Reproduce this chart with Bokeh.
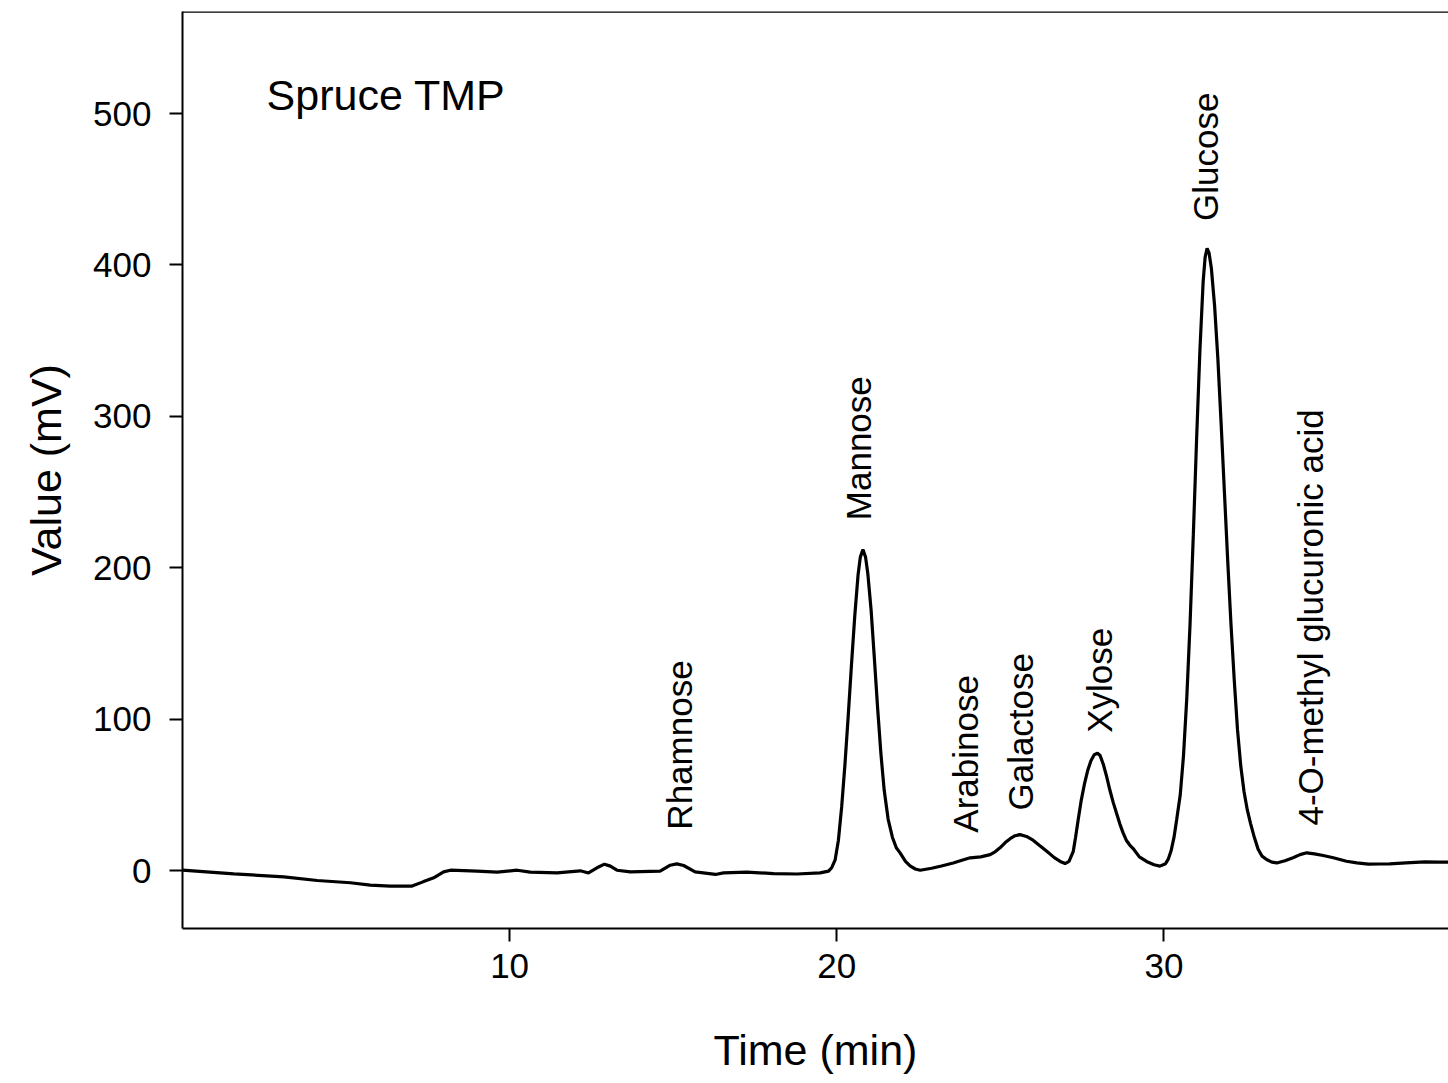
import math
from bokeh.plotting import figure
from bokeh.models import Range1d, FixedTicker, Span, ColumnDataSource
from bokeh.core.properties import value
from bokeh.embed import file_html
from bokeh.resources import INLINE

# Chromatogram trace (time in min, signal in mV)
time_min = [0, 1.57, 3.1, 4.12, 5.13, 5.74, 6.35, 7.02, 7.35, 7.68, 7.98, 8.19, 9.0, 9.62,
            10.23, 10.63, 11.45, 12.16, 12.41, 12.67, 12.9, 13.08, 13.28, 13.69, 14.6, 14.91,
            15.11, 15.32, 15.67, 16.29, 16.54, 17.25, 18.07, 18.78, 19.49, 19.75, 19.85, 19.95,
            20.05, 20.15, 20.25, 20.35, 20.45, 20.55, 20.65, 20.72, 20.8, 20.88, 20.95, 21.05,
            21.15, 21.25, 21.35, 21.45, 21.57, 21.7, 21.82, 21.94, 22.1, 22.24, 22.4, 22.55,
            22.9, 23.2, 23.56, 23.85, 24.08, 24.4, 24.69, 24.85, 24.99, 25.15, 25.3, 25.45,
            25.6, 25.8, 26.0, 26.2, 26.42, 26.65, 26.83, 26.98, 27.1, 27.23, 27.3, 27.38,
            27.47, 27.57, 27.67, 27.77, 27.87, 27.97, 28.05, 28.15, 28.25, 28.35, 28.45, 28.55,
            28.65, 28.75, 28.85, 28.95, 29.06, 29.25, 29.47, 29.7, 29.88, 30.05, 30.13, 30.22,
            30.31, 30.39, 30.5, 30.6, 30.7, 30.8, 30.9, 31.0, 31.1, 31.2, 31.26, 31.32, 31.38,
            31.45, 31.55, 31.65, 31.75, 31.85, 31.95, 32.05, 32.15, 32.25, 32.35, 32.45, 32.55,
            32.65, 32.75, 32.88, 33.0, 33.14, 33.3, 33.45, 33.7, 33.95, 34.16, 34.37, 34.6,
            34.87, 35.18, 35.58, 35.9, 36.25, 36.6, 36.9, 37.4, 37.98, 38.4, 38.7]
signal_mv = [0.2, -2.2, -4.2, -6.6, -8.1, -9.7, -10.3, -10.3, -7.5, -4.8, -0.9, 0.2, -0.4, -1.1,
             0.2, -1.1, -1.6, -0.2, -1.6, 1.8, 4.2, 2.9, 0.2, -0.9, -0.4, 3.5,
             4.4, 3.3, -0.9, -2.6, -1.6, -1.1, -2.0, -2.3, -1.6, -0.4, 2, 7,
             20, 42, 70, 102, 136, 168, 195, 207, 212, 207, 196, 172,
             140, 107, 77, 53, 34, 22, 15, 11.5, 6, 3, 1, 0.2,
             1.5, 3, 5, 7, 8.4, 9, 10.5, 12.5, 15, 18.5, 21, 23,
             23.7, 22.5, 20, 16.5, 12.7, 8.5, 6, 4.6, 6, 12.7, 22, 33.6,
             46, 57, 66, 72.5, 76.5, 77.5, 76, 70, 62, 53, 45, 38,
             31, 25, 20, 17, 14.5, 9, 6, 3.8, 2.9, 4.5, 7.3, 13,
             22, 33.6, 50, 76, 114, 163, 222, 285, 343, 389, 405, 411, 408,
             398, 373, 338, 295, 250, 205, 163, 126, 93, 69, 52, 40,
             31, 23, 14, 9.5, 7.3, 5.5, 5, 6.5, 8.4, 10.5, 11.7, 11,
             9.9, 8.4, 6.1, 5, 4.2, 4.3, 4.4, 5, 5.7, 5.5, 5.5]

peak_names = ["Rhamnose", "Mannose", "Arabinose", "Galactose", "Xylose", "Glucose",
              "4-O-methyl glucuronic acid"]
peak_label_x = [15.18, 20.65, 23.95, 25.63, 28.02, 31.26, 34.49]
peak_label_y = [27.0, 231.4, 25.0, 39.6, 91.0, 429.1, 29.7]

x_ticks = [10, 20, 30]
y_ticks = [0, 100, 200, 300, 400, 500]

FONT = "Liberation Sans"

p = figure(width=1448, height=1078,
           x_range=Range1d(0, 38.7), y_range=Range1d(-38.3, 567.4),
           output_backend="svg", toolbar_location=None,
           min_border_left=182, min_border_right=0, min_border_top=11, min_border_bottom=150)

p.xgrid.visible = False
p.ygrid.visible = False
p.outline_line_color = None
p.background_fill_color = "white"
p.border_fill_color = "white"

p.xaxis.ticker = FixedTicker(ticks=x_ticks)
p.yaxis.ticker = FixedTicker(ticks=y_ticks)
p.xaxis.axis_label = "Time (min)"
p.yaxis.axis_label = "Value (mV)"

for ax in (p.xaxis[0], p.yaxis[0]):
    ax.axis_line_color = "black"
    ax.axis_line_width = 2
    ax.major_tick_line_color = "black"
    ax.major_tick_line_width = 2
    ax.major_tick_out = 13
    ax.major_tick_in = 0
    ax.minor_tick_out = 0
    ax.minor_tick_in = 0
    ax.major_label_text_font = FONT
    ax.major_label_text_font_size = "35px"
    ax.major_label_text_color = "black"
    ax.axis_label_text_font = FONT
    ax.axis_label_text_font_size = "43px"
    ax.axis_label_text_font_style = "normal"
    ax.axis_label_text_color = "black"

p.xaxis.major_label_standoff = 12
p.xaxis.axis_label_standoff = 45
p.yaxis.major_label_standoff = 18
p.yaxis.axis_label_standoff = 20

p.add_layout(Span(location=567.4, dimension="width", line_color="black", line_width=2.5))

p.line(time_min, signal_mv, line_color="black", line_width=3.2)

labels = ColumnDataSource(dict(x=peak_label_x, y=peak_label_y, text=peak_names))
p.text(x="x", y="y", text="text", source=labels, angle=math.pi / 2,
       text_align="left", text_baseline="middle",
       text_font=value(FONT), text_font_size="35px", text_color="black")

p.text(x=[2.57], y=[512], text=["Spruce TMP"], text_align="left", text_baseline="middle",
       text_font=value(FONT), text_font_size="43px", text_color="black")

open("out.html", "w").write(file_html(p, INLINE))
